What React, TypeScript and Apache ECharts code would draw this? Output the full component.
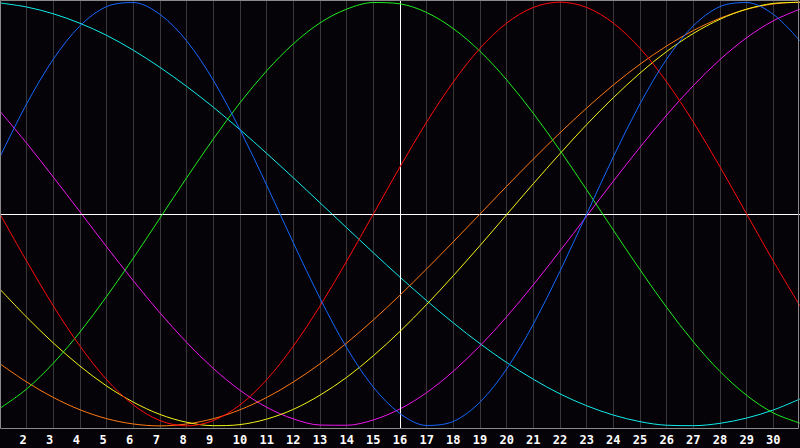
import React, { useEffect, useRef } from "react";
import * as echarts from "echarts";

// Days shown on the axis (day 1 .. day 31)
const days: number[] = Array.from({ length: 31 }, (_, i) => i + 1);
const todayDay = 16;

// Cycle values (-1 .. 1), one per day
const physical: number[] = [
  0.27, 0.52, 0.731, 0.888, 0.979, 0.998, 0.942, 0.817, 0.631, 0.398, 0.136,
  -0.136, -0.398, -0.631, -0.817, -0.942, -0.998, -0.979, -0.888, -0.731, -0.52,
  -0.27, 0.0, 0.27, 0.52, 0.731, 0.888, 0.979, 0.998, 0.942, 0.817,
];
const emotional: number[] = [
  0.0, -0.2225, -0.434, -0.6235, -0.782, -0.901, -0.975, -1.0, -0.975, -0.901,
  -0.782, -0.6235, -0.434, -0.2225, 0.0, 0.2225, 0.434, 0.6235, 0.782, 0.901,
  0.975, 1.0, 0.975, 0.901, 0.782, 0.6235, 0.434, 0.2225, 0.0, -0.2225, -0.434,
];
const intellectual: number[] = [
  -0.917, -0.826, -0.704, -0.557, -0.389, -0.208, -0.019, 0.171, 0.354, 0.525,
  0.676, 0.803, 0.902, 0.967, 0.998, 0.992, 0.951, 0.875, 0.768, 0.633, 0.475,
  0.3, 0.114, -0.076, -0.263, -0.441, -0.603, -0.743, -0.856, -0.939, -0.987,
];
const spiritual: number[] = [
  0.996, 0.977, 0.945, 0.9, 0.843, 0.773, 0.692, 0.602, 0.504, 0.398, 0.286,
  0.171, 0.053, -0.065, -0.183, -0.298, -0.409, -0.514, -0.612, -0.701, -0.78,
  -0.849, -0.905, -0.949, -0.98, -0.997, -0.999, -0.988, -0.963, -0.925, -0.873,
];
const intuitive: number[] = [
  0.485, 0.334, 0.174, 0.01, -0.155, -0.315, -0.467, -0.606, -0.729, -0.832,
  -0.912, -0.967, -0.996, -0.997, -0.972, -0.92, -0.843, -0.742, -0.622, -0.485,
  -0.334, -0.174, -0.01, 0.155, 0.315, 0.467, 0.606, 0.729, 0.832, 0.912, 0.967,
];
const aesthetic: number[] = [
  -0.355, -0.487, -0.609, -0.718, -0.812, -0.888, -0.946, -0.983, -0.999, -0.994,
  -0.968, -0.922, -0.855, -0.771, -0.669, -0.554, -0.427, -0.291, -0.149, -0.003,
  0.143, 0.285, 0.422, 0.549, 0.665, 0.767, 0.852, 0.919, 0.967, 0.994, 0.999,
];
const awareness: number[] = [
  -0.707, -0.793, -0.866, -0.924, -0.966, -0.991, -1.0, -0.991, -0.966, -0.924,
  -0.866, -0.793, -0.707, -0.609, -0.5, -0.383, -0.259, -0.131, 0.0, 0.131,
  0.259, 0.383, 0.5, 0.609, 0.707, 0.793, 0.866, 0.924, 0.966, 0.991, 1.0,
];

const seriesDefs = [
  { name: "Spiritual", values: spiritual, color: "#10ecec" },
  { name: "Intuitive", values: intuitive, color: "#ee18ee" },
  { name: "Awareness", values: awareness, color: "#ff7a12" },
  { name: "Aesthetic", values: aesthetic, color: "#f4f418" },
  { name: "Intellectual", values: intellectual, color: "#1eee1e" },
  { name: "Emotional", values: emotional, color: "#ff0a0a" },
  { name: "Physical", values: physical, color: "#1468ff" },
];

export default function App() {
  const ref = useRef<HTMLDivElement>(null);

  useEffect(() => {
    if (!ref.current) return;
    const chart = echarts.init(ref.current, null, { renderer: "svg" });

    const series: any[] = seriesDefs.map((s, idx) => ({
      name: s.name,
      type: "line",
      data: s.values.map((v, i) => [days[i], v]),
      smooth: 0.33,
      showSymbol: false,
      symbol: "none",
      lineStyle: { color: s.color, width: 1 },
      z: 3 + idx,
      silent: true,
    }));

    series.push({
      type: "line",
      data: [],
      silent: true,
      z: 2,
      markLine: {
        silent: true,
        symbol: "none",
        animation: false,
        label: { show: false },
        lineStyle: { color: "#ffffff", width: 1, type: "solid" },
        data: [{ yAxis: 0 }, { xAxis: todayDay }],
      },
    });

    chart.setOption({
      animation: false,
      backgroundColor: "#060308",
      grid: { left: 0, right: 0, top: 0, bottom: 20, containLabel: false },
      xAxis: {
        type: "value",
        min: 1,
        max: 31,
        interval: 1,
        axisLine: { show: false },
        axisTick: { show: false },
        splitLine: { show: true, lineStyle: { color: "#383838", width: 1 } },
        axisLabel: {
          show: true,
          showMinLabel: false,
          showMaxLabel: false,
          color: "#ffffff",
          fontFamily: "DejaVu Sans Mono",
          fontWeight: "bold",
          fontSize: 12,
          margin: 6,
          formatter: (v: number) => (v < 10 ? v + " " : "" + v),
        },
      },
      yAxis: {
        type: "value",
        min: -1.01,
        max: 1.01,
        show: false,
        splitLine: { show: false },
      },
      graphic: [
        {
          type: "rect",
          silent: true,
          z: 100,
          shape: { x: 0.5, y: 0.5, width: 798, height: 428 },
          style: { fill: "none", stroke: "#8a8a8a", lineWidth: 1 },
        },
      ],
      series,
    });

    return () => {
      chart.dispose();
    };
  }, []);

  return (
    <div
      ref={ref}
      style={{ position: "fixed", left: 0, top: 0, width: 800, height: 448 }}
    />
  );
}
